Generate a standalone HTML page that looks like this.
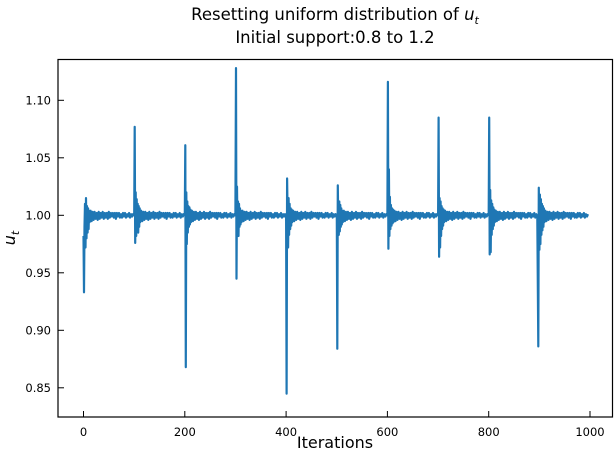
<!DOCTYPE html>
<html><head><meta charset="utf-8"><style>
body{margin:0;background:#fff}
svg{display:block;font-family:"DejaVu Sans","Liberation Sans",sans-serif}
</style></head><body>
<svg width="616" height="454" viewBox="0 0 616 454" xmlns="http://www.w3.org/2000/svg">
<text x="335" y="20" font-size="16.5" text-anchor="middle">Resetting uniform distribution of <tspan font-style="italic">u</tspan><tspan font-style="italic" font-size="11" dy="4">t</tspan></text>
<text x="335" y="43" font-size="16.5" text-anchor="middle">Initial support:0.8 to 1.2</text>
<g id="plot"></g>
<rect x="58" y="59.5" width="554.5" height="357.5" fill="none" stroke="#000" stroke-width="1.2"/>
<g id="ticks"></g>
<text x="335" y="448" font-size="16" text-anchor="middle">Iterations</text>
<text transform="translate(15,238) rotate(-90)" font-size="16" text-anchor="middle" font-style="italic">u<tspan font-size="11" dy="4">t</tspan></text>
</svg>
<script>
const xTicks=[0,200,400,600,800,1000];
const yTicks=[0.85,0.90,0.95,1.00,1.05,1.10];
const headOffsets=[0,1,2,3,4,5,6,7,8,9,10,11];
const tailOffsets=[12,14,16,18,20,22,24,26,28,30,32,34,36,38,40,42,44,46,48,50,52,54,56,58,60,62,64,66,68,70,72,74,76,78,80,82,84,86,88,90,92,94,96,98];
const seg0=[0.982,0.933,0.99,1.010,0.972,1.015,0.980,1.008,0.985,1.006,0.988,1.004];
const seg1=[1.00,1.077,0.976,1.02,0.982,1.014,0.988,1.010,0.985,1.008,0.990,1.006];
const seg2=[1.00,1.061,0.868,1.02,0.975,1.012,0.985,1.008,0.990,1.007,0.992,1.005];
const seg3=[1.00,1.128,0.945,1.025,0.985,1.012,0.982,1.010,0.990,1.006,0.992,1.004];
const seg4=[1.00,0.845,1.032,1.00,0.972,1.015,0.983,1.010,0.988,1.006,0.991,1.005];
const seg5=[1.00,0.884,1.026,0.99,0.983,1.012,0.986,1.009,0.990,1.006,0.992,1.004];
const seg6=[1.00,1.116,0.971,1.04,0.982,1.016,0.988,1.009,0.991,1.006,0.993,1.005];
const seg7=[1.00,1.085,0.964,1.015,0.972,1.012,0.982,1.008,0.988,1.006,0.991,1.005];
const seg8=[1.00,1.085,0.966,1.022,0.968,1.013,0.983,1.010,0.988,1.007,0.991,1.005];
const seg9=[0.886,1.024,0.970,1.018,0.975,1.014,0.983,1.010,0.987,1.008,0.990,1.006];
const tailNoise=[0.994,1.004,0.995,1.003,0.996,1.003,0.997,1.002,0.996,1.003,0.997,1.002,0.998,1.003,0.997,1.002,0.998,1.002,0.997,1.003,0.998,1.002,0.999,1.002,0.998,1.002,0.997,1.002,0.999,1.002,0.998,1.001,0.998,1.002,0.999,1.002,0.998,1.001,0.999,1.002,0.998,1.001,0.999,1.001];
const segments=[seg0,seg1,seg2,seg3,seg4,seg5,seg6,seg7,seg8,seg9];
const segStarts=[0,100,200,300,400,500,600,700,800,898];

const X=v=>83.5+(v-0)*(590-83.5)/1000;
const Y=v=>215.3-(v-1.0)*(57.5/0.05);
const NS="http://www.w3.org/2000/svg";
const plot=document.getElementById('plot');
let d="";
segments.forEach((s,k)=>{
 s.forEach((v,i)=>{const it=segStarts[k]+headOffsets[i];d+=(d?"L":"M")+X(it).toFixed(1)+","+Y(v).toFixed(1);});
 tailNoise.forEach((v,i)=>{const it=Math.min(segStarts[k]+tailOffsets[i],1000);if(k<9&&segStarts[k]+tailOffsets[i]>=segStarts[k+1])return;d+="L"+X(it).toFixed(1)+","+Y(v).toFixed(1);});
});
const line=document.createElementNS(NS,'path');


line.setAttribute('d',d);line.setAttribute('fill','none');line.setAttribute('stroke','#1f77b4');line.setAttribute('stroke-width','2.2');line.setAttribute('stroke-linejoin','round');
plot.appendChild(line);
const tg=document.getElementById('ticks');
xTicks.forEach(t=>{
 const l=document.createElementNS(NS,'line');
 
 
 l.setAttribute('x1',X(t));l.setAttribute('x2',X(t));l.setAttribute('y1',417);l.setAttribute('y2',411);l.setAttribute('stroke','#000');
 tg.appendChild(l);
 const tx=document.createElementNS(NS,'text');
 
 
 tx.setAttribute('x',X(t));tx.setAttribute('y',436);tx.setAttribute('font-size','11.5');tx.setAttribute('text-anchor','middle');tx.textContent=t;
 tg.appendChild(tx);
});
yTicks.forEach(t=>{
 const l=document.createElementNS(NS,'line');
 
 
 l.setAttribute('x1',58);l.setAttribute('x2',64);l.setAttribute('y1',Y(t));l.setAttribute('y2',Y(t));l.setAttribute('stroke','#000');
 tg.appendChild(l);
 const tx=document.createElementNS(NS,'text');
 
 
 tx.setAttribute('x',51);tx.setAttribute('y',Y(t)+4);tx.setAttribute('font-size','11.5');tx.setAttribute('text-anchor','end');tx.textContent=t.toFixed(2);
 tg.appendChild(tx);
});
</script>
</body></html>
